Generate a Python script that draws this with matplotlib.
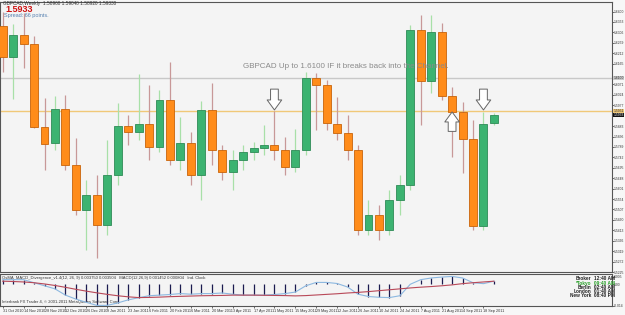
import matplotlib
matplotlib.use('Agg')
import matplotlib.pyplot as plt
from matplotlib.patches import Rectangle

# ---------------- data ----------------
dates = ["31 Oct 2010", "14 Nov 2010", "28 Nov 2010", "12 Dec 2010", "26 Dec 2010", "9 Jan 2011",
         "23 Jan 2011", "6 Feb 2011", "20 Feb 2011", "6 Mar 2011", "20 Mar 2011", "3 Apr 2011",
         "17 Apr 2011", "1 May 2011", "15 May 2011", "29 May 2011", "12 Jun 2011", "26 Jun 2011",
         "10 Jul 2011", "24 Jul 2011", "7 Aug 2011", "21 Aug 2011", "4 Sep 2011", "18 Sep 2011"]

opens = [1.6335, 1.6195, 1.6294, 1.6254, 1.5879, 1.5807, 1.5960, 1.5708, 1.5505, 1.5573,
         1.5437, 1.5663, 1.5884, 1.5857, 1.5893, 1.5789, 1.6001, 1.5730, 1.5807, 1.5663,
         1.5956, 1.5776, 1.5676, 1.5730, 1.5767, 1.5785, 1.5798, 1.5776, 1.5699, 1.5776,
         1.6100, 1.6069, 1.5893, 1.5852, 1.5776, 1.5415, 1.5482, 1.5415, 1.5550, 1.5618,
         1.6317, 1.6087, 1.6308, 1.6019, 1.5947, 1.5825, 1.5433, 1.5897]
highs = [1.6398, 1.6343, 1.6393, 1.6290, 1.6010, 1.6019, 1.6024, 1.5830, 1.5640, 1.5663,
         1.5821, 1.5987, 1.5933, 1.6118, 1.6069, 1.6046, 1.6172, 1.5924, 1.5857, 1.5996,
         1.6078, 1.5798, 1.5776, 1.5798, 1.5812, 1.5888, 1.5951, 1.5834, 1.5870, 1.6127,
         1.6123, 1.6091, 1.6015, 1.5933, 1.5798, 1.5550, 1.5527, 1.5595, 1.5663, 1.6339,
         1.6384, 1.6384, 1.6348, 1.6060, 1.5992, 1.5911, 1.5947, 1.5942]
lows = [1.6127, 1.6005, 1.6145, 1.5875, 1.5685, 1.5776, 1.5685, 1.5482, 1.5325, 1.5288,
        1.5392, 1.5618, 1.5798, 1.5821, 1.5730, 1.5767, 1.5708, 1.5685, 1.5618, 1.5550,
        1.5708, 1.5640, 1.5595, 1.5685, 1.5730, 1.5753, 1.5730, 1.5663, 1.5676, 1.5753,
        1.5866, 1.5866, 1.5821, 1.5730, 1.5392, 1.5392, 1.5370, 1.5392, 1.5482, 1.5595,
        1.5888, 1.6033, 1.6001, 1.5744, 1.5672, 1.5415, 1.5415, 1.5888]
closes = [1.6195, 1.6294, 1.6254, 1.5879, 1.5803, 1.5960, 1.5708, 1.5505, 1.5573, 1.5437,
          1.5663, 1.5884, 1.5857, 1.5893, 1.5789, 1.6001, 1.5730, 1.5807, 1.5663, 1.5956,
          1.5776, 1.5676, 1.5730, 1.5767, 1.5785, 1.5798, 1.5776, 1.5699, 1.5776, 1.6100,
          1.6069, 1.5897, 1.5852, 1.5776, 1.5415, 1.5482, 1.5415, 1.5550, 1.5618, 1.6317,
          1.6087, 1.6308, 1.6019, 1.5947, 1.5825, 1.5433, 1.5893, 1.5933]

macd = [0.0030, 0.0030, 0.0030, 0.0010, -0.0010, -0.0030, -0.0071, -0.0097, -0.0118, -0.0138,
        -0.0138, -0.0122, -0.0102, -0.0088, -0.0075, -0.0071, -0.0067, -0.0061, -0.0065, -0.0061,
        -0.0061, -0.0057, -0.0065, -0.0071, -0.0071, -0.0071, -0.0067, -0.0061, -0.0051, -0.0010,
        0.0012, 0.0012, 0.0005, -0.0018, -0.0065, -0.0080, -0.0085, -0.0087, -0.0075, 0.0000,
        0.0030, 0.0041, 0.0047, 0.0051, 0.0041, 0.0010, 0.0004, 0.0020]
signal = [0.0020, 0.0018, 0.0015, 0.0010, 0.0002, -0.0008, -0.0020, -0.0033, -0.0045, -0.0056,
          -0.0066, -0.0075, -0.0082, -0.0087, -0.0086, -0.0084, -0.0081, -0.0079, -0.0077, -0.0075,
          -0.0074, -0.0073, -0.0071, -0.0071, -0.0071, -0.0072, -0.0073, -0.0074, -0.0076, -0.0074,
          -0.0070, -0.0066, -0.0062, -0.0057, -0.0053, -0.0048, -0.0042, -0.0036, -0.0030, -0.0024,
          -0.0019, -0.0015, -0.0010, -0.0004, 0.0004, 0.0010, 0.0015, 0.0020]

level_target = 1.6100
level_line = 1.5951
current_price = 1.5933
down_arrows_idx = [26, 46]
down_arrows_price = [1.5956, 1.5956]
up_arrows_idx = [43]
up_arrows_price = [1.5947]

clock_names = ["Broker", "*Tokyo", "Berlin", "London", "New York"]
clock_times = ["12:40 AM", "09:40 AM", "02:40 AM", "01:40 AM", "08:40 PM"]

# ---------------- figure ----------------
W, H = 625, 315
fig = plt.figure(figsize=(W / 100, H / 100), dpi=100)
fig.patch.set_facecolor('#f7f7f7')
FONT = 'Liberation Sans'


def fy(py):
    return 1 - py / H


BG = '#f4f4f4'
ax = fig.add_axes([0, fy(272), 612 / W, 270 / H])
axi = fig.add_axes([0, fy(306), 612 / W, 32 / H])
for a in (ax, axi):
    a.set_facecolor(BG)
    for s in a.spines.values():
        s.set_color('#555555')
        s.set_linewidth(0.8)

n = len(opens)
xlim = (-0.26, 58.3)

ORANGE = '#ff8c1a'
ORANGE_E = '#c8640a'
GREEN = '#3cb371'
GREEN_E = '#2e8b57'
for i in range(n):
    o, h, l, c = opens[i], highs[i], lows[i], closes[i]
    up = c >= o
    wick = '#a8e0a8' if up else '#c89898'
    ax.vlines(i, l, h, color=wick, lw=0.9, zorder=2)
    face = GREEN if up else ORANGE
    edge = GREEN_E if up else ORANGE_E
    ax.add_patch(Rectangle((i - 0.38, min(o, c)), 0.76, max(abs(c - o), 0.0002),
                           facecolor=face, edgecolor=edge, lw=0.6, zorder=3))

ax.axhline(level_target, color='#c8c8c8', lw=1.0, zorder=1)
ax.axhline(level_line, color='#f0c878', lw=1.0, zorder=1)

ax.set_xlim(*xlim)
ax.set_ylim(1.5225, 1.6443)
ax.set_xticks([])
ax.yaxis.tick_right()
boxes = [level_target, level_line, current_price]
yt = [1.5225 + 0.0047 * k for k in range(26)]
yt = [v for v in yt if min(abs(v - b) for b in boxes) > 0.0025]
ax.set_yticks(yt)
ax.set_yticklabels(['%.4f' % v for v in yt], fontsize=2.4, family=FONT, color='#333333')
ax.tick_params(axis='y', length=1.2, width=0.5, pad=0.3, colors='#333333')

# arrows
AST = 'simple,head_length=7.2,head_width=10.5,tail_width=5.6'
for xi, pr in zip(down_arrows_idx, down_arrows_price):
    ax.annotate('', xy=(xi, pr), xytext=(0, 15), textcoords='offset points',
                arrowprops=dict(arrowstyle=AST, mutation_scale=1, fc='white', ec='#666666',
                                lw=0.7, shrinkA=0, shrinkB=0), zorder=6)
for xi, pr in zip(up_arrows_idx, up_arrows_price):
    ax.annotate('', xy=(xi, pr), xytext=(0, -14), textcoords='offset points',
                arrowprops=dict(arrowstyle=AST, mutation_scale=1, fc='white', ec='#666666',
                                lw=0.7, shrinkA=0, shrinkB=0), zorder=6)

# price label boxes on the axis
box_specs = [(level_target, '#c8c8c8', '#333333'), (level_line, '#f0c878', '#333333'),
             (current_price, '#111111', 'white')]
for pr, fc, tc in box_specs:
    ax.text(1.002, pr, '%.4f' % pr, transform=ax.get_yaxis_transform(), fontsize=2.4,
            family=FONT, va='center', ha='left', color=tc,
            bbox=dict(boxstyle='square,pad=0.12', fc=fc, ec='none'), clip_on=False)

# comment text
fig.text(346 / W, fy(67), 'GBPCAD Up to 1.6100 IF it breaks back into the Channel.',
         fontsize=5.8, family=FONT, color='#8a8a8a', ha='center', va='center')

# header
fig.text(3 / W, fy(3.5), 'GBPCAD,Weekly  1.58960 1.59040 1.58920 1.59330', fontsize=3.4,
         family=FONT, color='#333333', va='center')
fig.text(5 / W, fy(9.5), '%.4f' % current_price, fontsize=6.5, family=FONT, weight='bold',
         color='#cc1111', va='center')
fig.text(4 / W, fy(15.5), 'Spread: 66 points.', fontsize=4.0, family=FONT, color='#5580b0',
         va='center')

# ---------------- indicator ----------------
idx = list(range(n))
axi.vlines(idx, 0, macd, color='#1c1c50', lw=0.9, zorder=3)
axi.plot(idx, macd, color='#8cb8e0', lw=0.8, zorder=4)
axi.plot(idx, signal, color='#b84858', lw=0.8, zorder=4)
axi.set_xlim(*xlim)
axi.set_ylim(-0.0142, 0.0067)
axi.yaxis.tick_right()
axi.set_yticks([0.0050, 0.0, -0.0140])
axi.set_yticklabels(['0.005', '0.00', '-0.014'], fontsize=2.4, family=FONT, color='#333333')
axi.tick_params(axis='y', length=1.2, width=0.5, pad=0.3, colors='#333333')
axi.set_xticks(idx[::2])
axi.set_xticklabels(dates, fontsize=2.7, family=FONT, color='#333333', ha='left')
axi.tick_params(axis='x', length=1.5, width=0.5, pad=1, colors='#333333')

axi.text(0.003, 0.93, 'OsMA_MACD_Divergence_v1.4(12, 26, 9) 0.003750 0.003504   MACD(12,26,9) 0.001452 0.000804   Ind. Clock',
         transform=axi.transAxes, fontsize=3.0, family=FONT, color='#333333', va='top')
axi.text(0.003, 0.06, 'Interbank FX Trader 4, \u00a9 2001-2011 MetaQuotes Software Corp.',
         transform=axi.transAxes, fontsize=3.0, family=FONT, color='#333333', va='bottom')

for k, (nm, tm) in enumerate(zip(clock_names, clock_times)):
    col = '#2aa02a' if k == 1 else '#222222'
    yy = fy(279 + 4.2 * k)
    fig.text(591 / W, yy, nm, fontsize=3.4, family=FONT, weight='bold', color=col, ha='right', va='center')
    fig.text(594 / W, yy, tm, fontsize=3.4, family=FONT, weight='bold', color=col, ha='left', va='center')

fig.savefig('out.png', dpi=100, facecolor=fig.get_facecolor())
